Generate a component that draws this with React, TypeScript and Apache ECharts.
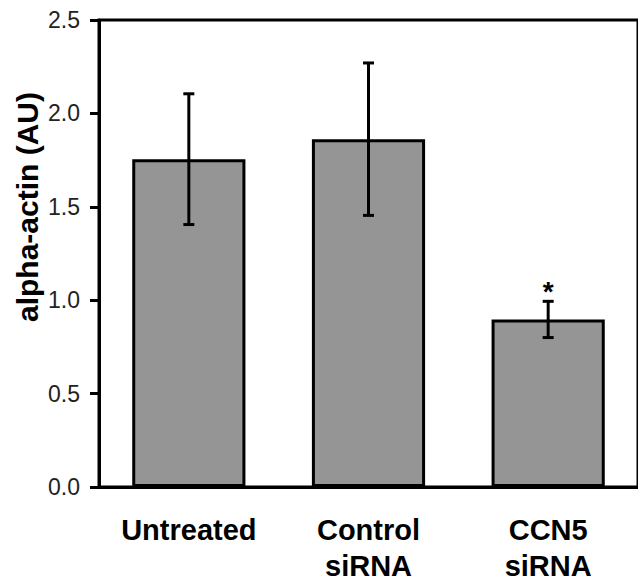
import React, { useEffect, useRef } from "react";
import * as echarts from "echarts";

const categories = ["Untreated", "Control\nsiRNA", "CCN5\nsiRNA"];
const means = [1.755, 1.862, 0.897];
const errors = [0.35, 0.408, 0.097];
const significance = ["", "", "*"];
const yTicks = { min: 0, max: 2.5, interval: 0.5 };
const yLabel = "alpha-actin (AU)";

const FONT = "'Liberation Sans', Arial, Helvetica, sans-serif";

export default function App() {
  const ref = useRef<HTMLDivElement>(null);
  useEffect(() => {
    document.body.style.margin = "0";
    const chart = echarts.init(ref.current!, null, { renderer: "svg" });
    chart.setOption({
      animation: false,
      backgroundColor: "#ffffff",
      grid: {
        left: 99,
        right: -4,
        top: 20,
        bottom: 93,
        show: true,
        borderColor: "#000",
        borderWidth: 3,
      },
      xAxis: {
        type: "category",
        data: categories,
        axisLine: { lineStyle: { color: "#000", width: 3 } },
        axisTick: { show: false },
        axisLabel: {
          fontFamily: FONT,
          fontSize: 29,
          fontWeight: "bold",
          color: "#000",
          lineHeight: 36,
          margin: 25,
        },
      },
      yAxis: {
        type: "value",
        min: yTicks.min,
        max: yTicks.max,
        interval: yTicks.interval,
        splitLine: { show: false },
        axisLine: { show: true, lineStyle: { color: "#000", width: 3 } },
        axisTick: { show: true, length: 9, lineStyle: { color: "#000", width: 3 } },
        axisLabel: {
          fontFamily: FONT,
          fontSize: 23,
          color: "#222",
          margin: 19,
          formatter: (v: number) => v.toFixed(1),
        },
      },
      graphic: [
        {
          type: "text",
          x: 27,
          y: 207,
          rotation: Math.PI / 2,
          style: {
            text: yLabel,
            fontFamily: FONT,
            fontSize: 30,
            fontWeight: "bold",
            fill: "#000",
            textAlign: "center",
            textVerticalAlign: "middle",
          },
        },
      ],
      series: [
        {
          type: "bar",
          data: means,
          barWidth: "63%",
          itemStyle: { color: "#959595", borderColor: "#000", borderWidth: 3 },
        },
        {
          type: "custom",
          data: means.map((m, i) => [i, m, errors[i]]),
          z: 10,
          renderItem: (params: any, api: any) => {
            const i = api.value(0);
            const m = api.value(1);
            const e = api.value(2);
            const top = api.coord([i, m + e]);
            const bot = api.coord([i, m - e]);
            const cap = 5.5;
            const style = { stroke: "#000", lineWidth: 3 };
            const children: any[] = [
              { type: "line", shape: { x1: top[0], y1: top[1], x2: bot[0], y2: bot[1] }, style },
              { type: "line", shape: { x1: top[0] - cap, y1: top[1], x2: top[0] + cap, y2: top[1] }, style },
              { type: "line", shape: { x1: bot[0] - cap, y1: bot[1], x2: bot[0] + cap, y2: bot[1] }, style },
            ];
            const s = significance[params.dataIndex];
            if (s) {
              children.push({
                type: "text",
                x: top[0],
                y: top[1] - 10,
                style: {
                  text: s,
                  fontFamily: FONT,
                  fontSize: 28,
                  fontWeight: "bold",
                  fill: "#000",
                  textAlign: "center",
                  textVerticalAlign: "middle",
                },
              });
            }
            return { type: "group", children };
          },
        },
      ],
    });
    return () => chart.dispose();
  }, []);
  return <div ref={ref} style={{ width: 638, height: 584 }} />;
}
